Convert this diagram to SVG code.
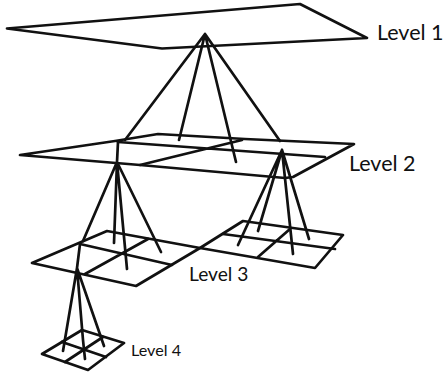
<svg xmlns="http://www.w3.org/2000/svg" width="445" height="376" viewBox="0 0 445 376">
<style>
.g{fill:none;stroke:#111;stroke-width:2.7;stroke-linejoin:round;stroke-linecap:round}
.c{fill:none;stroke:#111;stroke-width:2.7;stroke-linecap:round}
text{font-family:Lato,"Open Sans",sans-serif;fill:#111}
</style>
<rect width="445" height="376" fill="#fff"/>
<g id="level1"><path class="g" d="M7 28.5L300 4L367 38L162 48.5Z"/><text x="377" y="40" font-size="21.5">Level 1</text></g>
<g id="level2"><path class="g" d="M20 155L115 141L158 134L245 139L354 144L293 177L285 178L140 165Z"/><path class="g" d="M118 142L325 157M242 140L140 165"/><text x="349" y="171" font-size="21.5">Level 2</text></g>
<g id="level3-left"><path class="g" d="M32 263L107 231L200 248L136 286Z"/><path class="g" d="M80 244L172 265M148 239L85 274"/></g>
<g id="level3-right"><path class="g" d="M200 248L243 221L343 235L315 268Z"/><path class="g" d="M223 234L335 249M290 229L258 257"/></g>
<text id="label3" x="189" y="281" font-size="19.2">Level 3</text>
<g id="level4"><path class="g" d="M42 354L82 330L124 343L88 370Z"/><path class="g" d="M62 342L106 357M103 337L65 362"/><text x="131" y="356" font-size="16.2">Level 4</text></g>
<g id="connectors">
<path class="c" d="M205 34L125 140M205 34L179 140M205 34L236 162M205 34L280 141"/>
<path class="c" d="M118 142L117 162M117 162L83 241M117 162L114 243M117 162L127 269M117 162L161 252"/>
<path class="c" d="M282 150L238 245M282 150L258 231M282 150L293 254M282 150L309 239"/>
<path class="c" d="M80 244L77 268M77 268L63 351M77 268L83 340L85 359M77 268L104 346"/>
</g>
</svg>
